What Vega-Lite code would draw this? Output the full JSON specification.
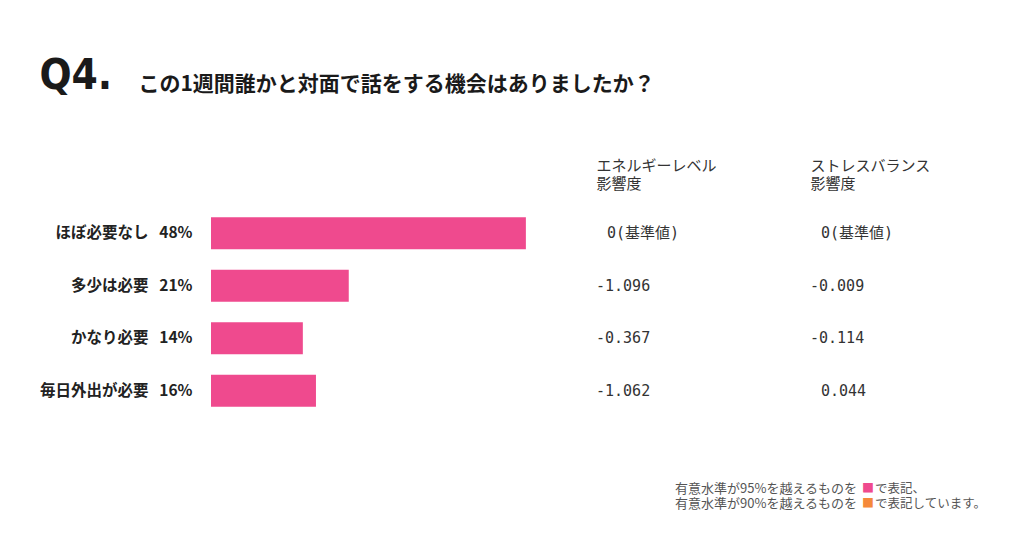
{
  "$schema": "https://vega.github.io/schema/vega-lite/v6.json",
  "background": "white",
  "padding": {"left": 39, "top": 55, "right": 5, "bottom": 5},
  "title": {
    "text": "Q4.",
    "subtitle": "⠀　　　　この1週間誰かと対面で話をする機会はありましたか？",
    "anchor": "start",
    "frame": "bounds",
    "font": "DejaVu Sans Condensed",
    "fontSize": 42,
    "fontWeight": "bold",
    "color": "#1a1a1a",
    "subtitleFont": "Noto Sans CJK JP",
    "subtitleFontSize": 21,
    "subtitleFontWeight": "bold",
    "subtitleColor": "#1a1a1a",
    "subtitlePadding": -24,
    "offset": 60
  },
  "config": {"view": {"stroke": null}},
  "vconcat": [
    {
      "hconcat": [
        {
          "width": 328,
          "height": 210,
          "data": {"values": [
            {"label": "ほぼ必要なし\u2002\u200948%", "pct": 48},
            {"label": "多少は必要\u2002\u200921%", "pct": 21},
            {"label": "かなり必要\u2002\u200914%", "pct": 14},
            {"label": "毎日外出が必要\u2002\u200916%", "pct": 16}
          ]},
          "mark": {"type": "bar", "color": "#ef4a8e"},
          "encoding": {
            "y": {"field": "label", "type": "nominal", "sort": null,
              "scale": {"paddingInner": 0.39, "paddingOuter": 0.195},
              "axis": {"title": null, "ticks": false, "domain": false, "labelFont": "Noto Sans CJK JP", "labelFontSize": 15.5, "labelFontWeight": "bold", "labelColor": "#222", "labelPadding": 19}},
            "x": {"field": "pct", "type": "quantitative", "scale": {"domain": [0, 50]}, "axis": null}
          }
        },
        {
          "width": 214,
          "height": 210,
          "data": {"values": [
            {"category": "ほぼ必要なし", "metric": "エネルギーレベル 影響度", "value": "⠀0(基準値)"},
            {"category": "ほぼ必要なし", "metric": "ストレスバランス 影響度", "value": "⠀0(基準値)"},
            {"category": "多少は必要", "metric": "エネルギーレベル 影響度", "value": "-1.096"},
            {"category": "多少は必要", "metric": "ストレスバランス 影響度", "value": "-0.009"},
            {"category": "かなり必要", "metric": "エネルギーレベル 影響度", "value": "-0.367"},
            {"category": "かなり必要", "metric": "ストレスバランス 影響度", "value": "-0.114"},
            {"category": "毎日外出が必要", "metric": "エネルギーレベル 影響度", "value": "-1.062"},
            {"category": "毎日外出が必要", "metric": "ストレスバランス 影響度", "value": "⠀0.044"}
          ]},
          "mark": {"type": "text", "align": "left", "baseline": "middle", "font": "DejaVu Sans Mono, Noto Sans CJK JP", "fontSize": 15, "color": "#333"},
          "encoding": {
            "x": {"field": "metric", "type": "nominal", "sort": null,
              "scale": {"type": "point", "padding": 0},
              "axis": {"orient": "top", "title": null, "ticks": false, "domain": false, "labelAngle": 0, "labelAlign": "left", "labelExpr": "split(datum.label, ' ')", "labelFont": "Noto Sans CJK JP", "labelFontSize": 15, "labelColor": "#333", "labelPadding": 34, "labelBaseline": "bottom", "labelLineHeight": 18}},
            "y": {"field": "category", "type": "nominal", "sort": null,
              "scale": {"paddingInner": 0.39, "paddingOuter": 0.195}, "axis": null},
            "text": {"field": "value"}
          }
        }
      ],
      "spacing": 57
    },
    {
      "width": 780,
      "height": 30,
      "data": {"values": [
        {"line": 1, "level": "95%", "pre": "有意水準が95%を越えるものを", "post": "で表記、"},
        {"line": 2, "level": "90%", "pre": "有意水準が90%を越えるものを", "post": "で表記しています。"}
      ]},
      "encoding": {
        "y": {"field": "line", "type": "ordinal", "axis": null}
      },
      "layer": [
        {"mark": {"type": "text", "align": "left", "x": 464, "font": "Noto Sans CJK JP", "fontSize": 13, "color": "#555"},
         "encoding": {"text": {"field": "pre"}}},
        {"mark": {"type": "text", "align": "left", "x": 651, "text": "■", "font": "Noto Sans CJK JP", "fontSize": 12},
         "encoding": {"color": {"field": "level", "type": "nominal", "scale": {"domain": ["95%", "90%"], "range": ["#ef4a8e", "#f5893a"]}, "legend": null}}},
        {"mark": {"type": "text", "align": "left", "x": 664, "font": "Noto Sans CJK JP", "fontSize": 12.5, "color": "#555"},
         "encoding": {"text": {"field": "post"}}}
      ]
    }
  ],
  "spacing": 64
}
